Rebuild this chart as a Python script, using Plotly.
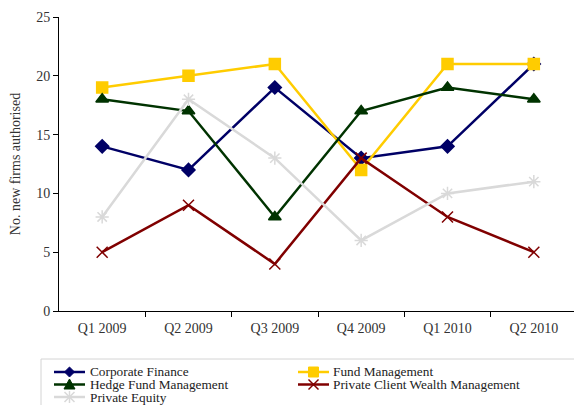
import plotly.graph_objects as go

categories = ["Q1 2009", "Q2 2009", "Q3 2009", "Q4 2009", "Q1 2010", "Q2 2010"]
corporate_finance = [14, 12, 19, 13, 14, 21]
fund_management = [19, 20, 21, 12, 21, 21]
hedge_fund = [18, 17, 8, 17, 19, 18]
private_client = [5, 9, 4, 13, 8, 5]
private_equity = [8, 18, 13, 6, 10, 11]

series_names = ["Corporate Finance", "Fund Management", "Hedge Fund Management",
                "Private Client Wealth Management", "Private Equity"]
series_values = [corporate_finance, fund_management, hedge_fund, private_client, private_equity]
series_colors = ["#000066", "#FFCC00", "#003300", "#800000", "#D9D9D9"]
series_symbols = ["diamond", "square", "triangle-up", "x-thin-open", "asterisk-open"]
series_sizes = [10, 11, 11, 11, 11]

FONT = "Liberation Serif"
OFF = 8  # page body margin
W, H = 582 - OFF, 405 - OFF
# plot area in screen pixels: x 59..577, y 17..311
L, T = 59 - OFF, 17 - OFF
R = W - (577 - OFF)
B = H - (311 - OFF)
PW, PH = W - L - R, H - T - B


def px_x(p):
    return (p - OFF - L) / PW


def px_y(p):
    return (H - B - (p - OFF)) / PH


def path_of(points, close=True):
    s = "M " + " L ".join(f"{px_x(x):.5f},{px_y(y):.5f}" for x, y in points)
    return s + (" Z" if close else "")


def legend_symbol(sym, cx, cy, color):
    out = []
    if sym == "diamond":
        pts = [(cx - 5, cy), (cx, cy - 5), (cx + 5, cy), (cx, cy + 5)]
        out.append(dict(type="path", path=path_of(pts), fillcolor=color, line=dict(color=color, width=1)))
    elif sym == "square":
        pts = [(cx - 5, cy - 5), (cx + 5, cy - 5), (cx + 5, cy + 5), (cx - 5, cy + 5)]
        out.append(dict(type="path", path=path_of(pts), fillcolor=color, line=dict(color=color, width=1)))
    elif sym == "triangle-up":
        pts = [(cx - 5.5, cy + 4.5), (cx, cy - 5.5), (cx + 5.5, cy + 4.5)]
        out.append(dict(type="path", path=path_of(pts), fillcolor=color, line=dict(color=color, width=1)))
    elif sym == "x-thin-open":
        for a, b in [((cx - 5, cy - 5), (cx + 5, cy + 5)), ((cx - 5, cy + 5), (cx + 5, cy - 5))]:
            out.append(dict(type="path", path=path_of([a, b], close=False), line=dict(color=color, width=1.5)))
    else:  # asterisk
        for a, b in [((cx - 5, cy - 5), (cx + 5, cy + 5)), ((cx - 5, cy + 5), (cx + 5, cy - 5)),
                     ((cx, cy - 6), (cx, cy + 6))]:
            out.append(dict(type="path", path=path_of([a, b], close=False), line=dict(color=color, width=1.5)))
    for s in out:
        s.update(xref="paper", yref="paper")
    return out


fig = go.Figure()
for name, vals, color, sym, size in zip(series_names, series_values, series_colors, series_symbols, series_sizes):
    fig.add_trace(go.Scatter(
        x=list(range(len(categories))), y=vals, name=name, mode="lines+markers",
        line=dict(color=color, width=2.5),
        marker=dict(symbol=sym, size=size, color=color, line=dict(color=color, width=1.5)),
        showlegend=False,
    ))

# Manual compact legend (two columns, box clipped at bottom like the reference)
col_line_x = [54, 298]
col_text_x = [88, 331]
row_y = [372, 384.5, 397]
shapes = [dict(type="rect", xref="paper", yref="paper",
               x0=px_x(41), x1=px_x(600), y0=px_y(359), y1=px_y(420),
               line=dict(color="#D4D4D4", width=1), fillcolor="rgba(0,0,0,0)", layer="below")]
annotations = []
for i, name in enumerate(series_names):
    c, r = i % 2, i // 2
    x0 = col_line_x[c]
    y = row_y[r]
    shapes.append(dict(type="line", xref="paper", yref="paper",
                       x0=px_x(x0), x1=px_x(x0 + 31), y0=px_y(y), y1=px_y(y),
                       line=dict(color=series_colors[i], width=2.5)))
    shapes.extend(legend_symbol(series_symbols[i], x0 + 15.5, y, series_colors[i]))
    annotations.append(dict(text=name, xref="paper", yref="paper", x=px_x(col_text_x[c]), y=px_y(y),
                            xanchor="left", yanchor="middle", showarrow=False,
                            font=dict(family=FONT, size=13.3, color="#222222")))

fig.update_layout(
    width=W, height=H,
    margin=dict(l=L, r=R, t=T, b=B, autoexpand=False),
    paper_bgcolor="white", plot_bgcolor="white",
    font=dict(family=FONT, size=14, color="#333333"),
    showlegend=False,
    shapes=shapes, annotations=annotations,
    xaxis=dict(
        range=[-0.5, 5.5], tickmode="array",
        tickvals=list(range(len(categories))), ticktext=categories,
        showgrid=False, zeroline=False, showline=True, linecolor="#000000", linewidth=1,
        ticks="", ticklabelstandoff=4, automargin=False,
        tickfont=dict(family=FONT, size=14, color="#333333"),
        minor=dict(tickmode="array", tickvals=[i + 0.5 for i in range(6)], ticks="outside",
                   ticklen=5, tickcolor="#000000", showgrid=False),
    ),
    yaxis=dict(
        range=[0, 25], tickvals=[0, 5, 10, 15, 20, 25],
        showgrid=False, zeroline=False, showline=True, linecolor="#000000", linewidth=1,
        ticks="outside", ticklen=5, tickcolor="#000000", automargin=False,
        tickfont=dict(family=FONT, size=14, color="#333333"),
        title=dict(text="No. new firms authorised", font=dict(family=FONT, size=14, color="#333333"), standoff=12),
    ),
)
fig.write_html("out.html")
